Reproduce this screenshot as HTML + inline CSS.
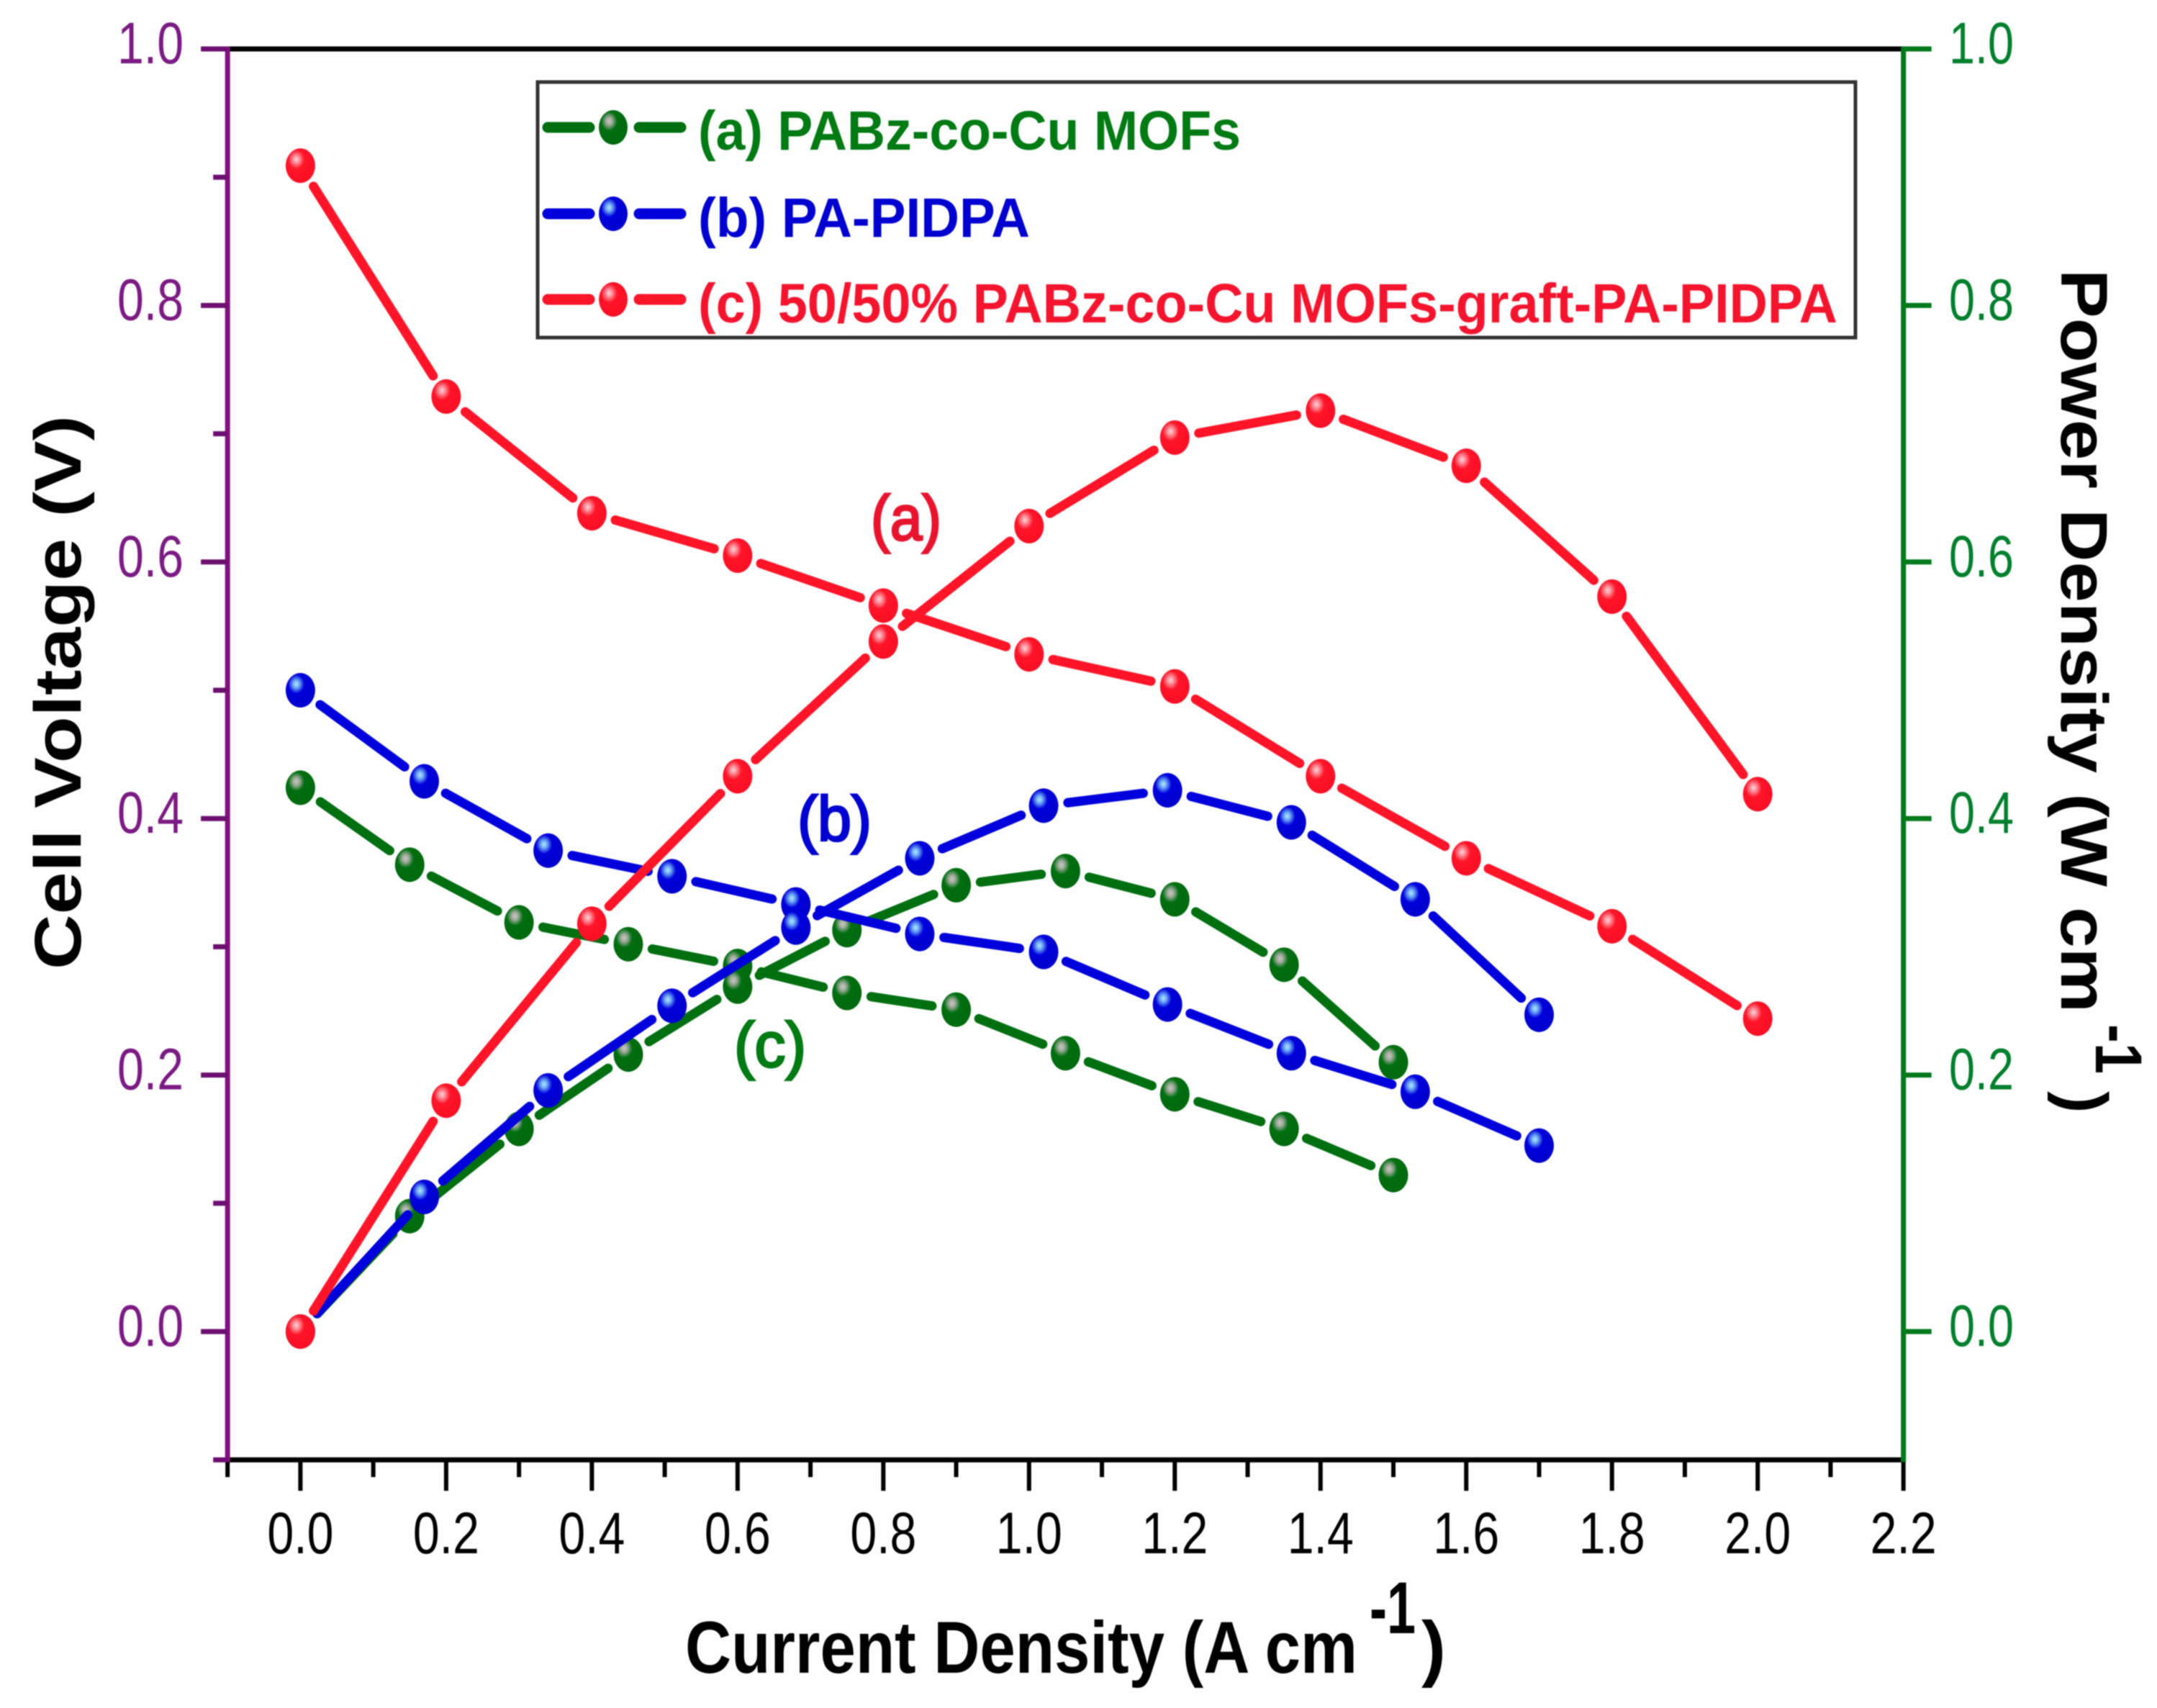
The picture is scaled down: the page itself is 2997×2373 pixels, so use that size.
<!DOCTYPE html>
<html lang="en">
<head>
<meta charset="utf-8">
<title>Cell voltage and power density vs current density</title>
<style>
  html, body { margin: 0; padding: 0; background: #fefefe; }
  svg { display: block; filter: blur(0.8px); }
  text { font-family: "Liberation Sans", Arial, sans-serif; }
  .bold { font-weight: bold; }
</style>
</head>
<body>
<svg id="chart" xmlns="http://www.w3.org/2000/svg" width="2997" height="2373" viewBox="0 0 2997 2373">
  <defs>
    <radialGradient id="ball-green" cx="0.36" cy="0.32" r="0.55">
      <stop offset="0" stop-color="#c8c8c0"/>
      <stop offset="0.2" stop-color="#a0aa9c"/>
      <stop offset="0.5" stop-color="#006f10"/>
      <stop offset="1" stop-color="#006a0e"/>
    </radialGradient>
    <radialGradient id="ball-blue" cx="0.36" cy="0.32" r="0.55">
      <stop offset="0" stop-color="#b8e4ff"/>
      <stop offset="0.2" stop-color="#6aa8f4"/>
      <stop offset="0.5" stop-color="#0000dc"/>
      <stop offset="1" stop-color="#0000d0"/>
    </radialGradient>
    <radialGradient id="ball-red" cx="0.36" cy="0.32" r="0.55">
      <stop offset="0" stop-color="#ffd8dc"/>
      <stop offset="0.2" stop-color="#ff8c98"/>
      <stop offset="0.5" stop-color="#ff1428"/>
      <stop offset="1" stop-color="#fb1026"/>
    </radialGradient>
  </defs>
  <rect x="0" y="0" width="2997" height="2373" fill="#fefefe"/>
  <g id="grid-layer"></g>
  <g id="series-layer"></g>
  <g id="label-layer"></g>

  <g fill="#000" font-size="102" class="bold">
    <text class="bold" x="952" y="2324" textLength="934" lengthAdjust="spacingAndGlyphs">Current Density (A cm</text>
    <text class="bold" x="1903" y="2269" textLength="64" lengthAdjust="spacingAndGlyphs">-1</text>
    <text class="bold" x="1975" y="2324">)</text>
  </g>

  <text class="bold" font-size="92" fill="#000" transform="translate(112 1347) rotate(-90)" textLength="770" lengthAdjust="spacingAndGlyphs">Cell Voltage (V)</text>

  <g fill="#000" font-size="92">
    <text class="bold" transform="translate(2864 374) rotate(90)" textLength="1033" lengthAdjust="spacingAndGlyphs">Power Density (W cm</text>
    <text class="bold" transform="translate(2912 1423) rotate(90)" textLength="69" lengthAdjust="spacingAndGlyphs">-1</text>
    <text class="bold" transform="translate(2864 1516) rotate(90)">)</text>
  </g>

  <g>
    <rect x="747" y="114" width="1831" height="355" fill="#fefefe" stroke="#333" stroke-width="5"/>

    <g>
      <line x1="761" y1="177" x2="819" y2="177" stroke="#006f10" stroke-width="15" stroke-linecap="round"/>
      <line x1="888" y1="177" x2="946" y2="177" stroke="#006f10" stroke-width="15" stroke-linecap="round"/>
      <ellipse cx="852" cy="177" rx="20" ry="24" fill="url(#ball-green)"/>
      <text class="bold" x="970" y="208" font-size="77" fill="#007a12" textLength="754" lengthAdjust="spacingAndGlyphs">(a) PABz-co-Cu MOFs</text>
    </g>

    <g>
      <line x1="761" y1="297" x2="819" y2="297" stroke="#0000dc" stroke-width="15" stroke-linecap="round"/>
      <line x1="888" y1="297" x2="946" y2="297" stroke="#0000dc" stroke-width="15" stroke-linecap="round"/>
      <ellipse cx="852" cy="297" rx="20" ry="24" fill="url(#ball-blue)"/>
      <text class="bold" x="970" y="329" font-size="77" fill="#0000d0" textLength="461" lengthAdjust="spacingAndGlyphs">(b) PA-PIDPA</text>
    </g>

    <g>
      <line x1="761" y1="416" x2="819" y2="416" stroke="#ff1428" stroke-width="15" stroke-linecap="round"/>
      <line x1="888" y1="416" x2="946" y2="416" stroke="#ff1428" stroke-width="15" stroke-linecap="round"/>
      <ellipse cx="852" cy="416" rx="20" ry="24" fill="url(#ball-red)"/>
      <text class="bold" x="970" y="448" font-size="77" fill="#f5142e" textLength="1583" lengthAdjust="spacingAndGlyphs">(c) 50/50% PABz-co-Cu MOFs-graft-PA-PIDPA</text>
    </g>
  </g>

  <text x="1210" y="750" font-size="88" fill="#e8142e" stroke="#e8142e" stroke-width="3" textLength="98" lengthAdjust="spacingAndGlyphs">(a)</text>
  <text x="1108" y="1168" font-size="88" fill="#0000d0" stroke="#0000d0" stroke-width="3" textLength="103" lengthAdjust="spacingAndGlyphs">(b)</text>
  <text x="1020" y="1482" font-size="88" fill="#007a12" stroke="#007a12" stroke-width="3" textLength="100" lengthAdjust="spacingAndGlyphs">(c)</text>
</svg>

<script>
// ---- chart data ----
const xTickLabels = ["0.0", "0.2", "0.4", "0.6", "0.8", "1.0", "1.2", "1.4", "1.6", "1.8", "2.0", "2.2"];
const xMinorTicks = [-0.1, 0.1, 0.3, 0.5, 0.7, 0.9, 1.1, 1.3, 1.5, 1.7, 1.9, 2.1];
const leftTickLabels = ["0.0", "0.2", "0.4", "0.6", "0.8", "1.0"];
const leftMinorTicks = [-0.1, 0.1, 0.3, 0.5, 0.7, 0.9];
const rightTickLabels = ["0.0", "0.2", "0.4", "0.6", "0.8", "1.0"];

const currentA = [0, 0.15, 0.30, 0.45, 0.60, 0.75, 0.90, 1.05, 1.20, 1.35, 1.50];
const voltageA = [0.424, 0.364, 0.319, 0.302, 0.285, 0.264, 0.251, 0.217, 0.185, 0.158, 0.122];
const powerA = [0, 0.090, 0.158, 0.216, 0.269, 0.313, 0.348, 0.359, 0.337, 0.286, 0.210];

const currentB = [0, 0.17, 0.34, 0.51, 0.68, 0.85, 1.02, 1.19, 1.36, 1.53, 1.70];
const voltageB = [0.500, 0.429, 0.375, 0.355, 0.333, 0.310, 0.296, 0.255, 0.217, 0.187, 0.145];
const powerB = [0, 0.105, 0.188, 0.254, 0.315, 0.369, 0.410, 0.422, 0.397, 0.337, 0.247];

const currentC = [0, 0.2, 0.4, 0.6, 0.8, 1.0, 1.2, 1.4, 1.6, 1.8, 2.0];
const voltageC = [0.909, 0.729, 0.638, 0.605, 0.566, 0.528, 0.503, 0.433, 0.369, 0.316, 0.244];
const powerC = [0, 0.180, 0.318, 0.433, 0.538, 0.628, 0.697, 0.718, 0.675, 0.573, 0.419];

// ---- axis functions ----
const X_ZERO = 417.4, X_PER_UNIT = 1012.4;
const Y_ZERO = 1850, Y_PER_UNIT = 1782;
function xScale(v) { return X_ZERO + v * X_PER_UNIT; }
function yLeft(v) { return Y_ZERO - v * Y_PER_UNIT; }
function yRight(v) { return Y_ZERO - v * Y_PER_UNIT; }

const NS = "http://www.w3.org/2000/svg";
const axesLayer = document.getElementById("grid-layer");
const seriesLayer = document.getElementById("series-layer");
const labelLayer = document.getElementById("label-layer");

function makeLine(parent, x1, y1, x2, y2, color, width, cap) {
  const el = document.createElementNS(NS, "line");
  el.setAttribute("x1", x1);
  el.setAttribute("y1", y1);
  el.setAttribute("x2", x2);
  el.setAttribute("y2", y2);
  el.setAttribute("stroke", color);
  el.setAttribute("stroke-width", width);
  el.setAttribute("stroke-linecap", cap || "butt");
  parent.appendChild(el);
  return el;
}

function makeLabel(str, x, y, anchor, color, len) {
  const el = document.createElementNS(NS, "text");
  el.textContent = str;
  el.setAttribute("x", x);
  el.setAttribute("y", y);
  el.setAttribute("text-anchor", anchor);
  el.setAttribute("fill", color);
  el.setAttribute("font-size", "82");
  el.setAttribute("textLength", len);
  el.setAttribute("lengthAdjust", "spacingAndGlyphs");
  labelLayer.appendChild(el);
  return el;
}

const TOP = yLeft(1.0), BOTTOM = yLeft(-0.1);
const LEFT = xScale(-0.1), RIGHT = xScale(2.2);
const PURPLE_AXIS = "#84107f", PURPLE_TICK = "#6c0f70", PURPLE_TEXT = "#7c1a84";
const GREEN_AXIS = "#00791c", GREEN_TEXT = "#007f2c";

// frame
const topAxis = makeLine(axesLayer, LEFT, TOP, RIGHT, TOP, "#000", 7);


const bottomAxis = makeLine(axesLayer, LEFT, BOTTOM, RIGHT, BOTTOM, "#000", 7);



// x ticks
xTickLabels.forEach(function (label) {
  const v = parseFloat(label);
  const t = makeLine(axesLayer, xScale(v), BOTTOM, xScale(v), BOTTOM + 43, "#000", 6);
  
  
  const l = makeLabel(label, xScale(v), 2158, "middle", "#000", 92);
  
  
});
xMinorTicks.forEach(function (v) {
  const t = makeLine(axesLayer, xScale(v), BOTTOM, xScale(v), BOTTOM + 24, "#000", 6);
  
  
});

// left axis
const leftAxis = makeLine(axesLayer, LEFT, TOP - 3, LEFT, BOTTOM + 3, PURPLE_AXIS, 7);


leftTickLabels.forEach(function (label) {
  const v = parseFloat(label);
  const t = makeLine(axesLayer, LEFT - 37, yLeft(v), LEFT, yLeft(v), PURPLE_TICK, 7);
  
  
  const l = makeLabel(label, 255, yLeft(v) + 20, "end", PURPLE_TEXT, 92);
  
  
});
leftMinorTicks.forEach(function (v) {
  const t = makeLine(axesLayer, LEFT - 20, yLeft(v), LEFT, yLeft(v), PURPLE_TICK, 7);
  
  
});

// right axis
const rightAxis = makeLine(axesLayer, RIGHT, TOP - 3, RIGHT, BOTTOM + 3, GREEN_AXIS, 7);


rightTickLabels.forEach(function (label) {
  const v = parseFloat(label);
  const t = makeLine(axesLayer, RIGHT, yRight(v), RIGHT + 39, yRight(v), GREEN_AXIS, 7);
  
  
  const l = makeLabel(label, 2708, yRight(v) + 20, "start", GREEN_TEXT, 90);
  
  
});

// series: segments are shortened so a white gap surrounds each marker
const GAP = 34;
function drawCurve(xs, ys, yFn, color, gradient, name) {
  const g = document.createElementNS(NS, "g");
  
  
  for (let i = 0; i < xs.length - 1; i++) {
    const ax = xScale(xs[i]), ay = yFn(ys[i]);
    const bx = xScale(xs[i + 1]), by = yFn(ys[i + 1]);
    const d = Math.hypot(bx - ax, by - ay);
    const ux = (bx - ax) / d, uy = (by - ay) / d;
    const seg = makeLine(g, ax + ux * GAP, ay + uy * GAP, bx - ux * GAP, by - uy * GAP, color, 13, "round");
    
    
  }
  xs.forEach(function (x, i) {
    const m = document.createElementNS(NS, "ellipse");
    m.setAttribute("cx", xScale(x));
    m.setAttribute("cy", yFn(ys[i]));
    m.setAttribute("rx", 20.5);
    m.setAttribute("ry", 24);
    m.setAttribute("fill", "url(#" + gradient + ")");
    
    
    g.appendChild(m);
  });
  seriesLayer.appendChild(g);
}

drawCurve(currentA, voltageA, yLeft, "#006f10", "ball-green", "voltage-curve-a");
drawCurve(currentA, powerA, yRight, "#006f10", "ball-green", "power-curve-a");
drawCurve(currentB, voltageB, yLeft, "#0000dc", "ball-blue", "voltage-curve-b");
drawCurve(currentB, powerB, yRight, "#0000dc", "ball-blue", "power-curve-b");
drawCurve(currentC, voltageC, yLeft, "#ff1428", "ball-red", "voltage-curve-c");
drawCurve(currentC, powerC, yRight, "#ff1428", "ball-red", "power-curve-c");
</script>
</body>
</html>
